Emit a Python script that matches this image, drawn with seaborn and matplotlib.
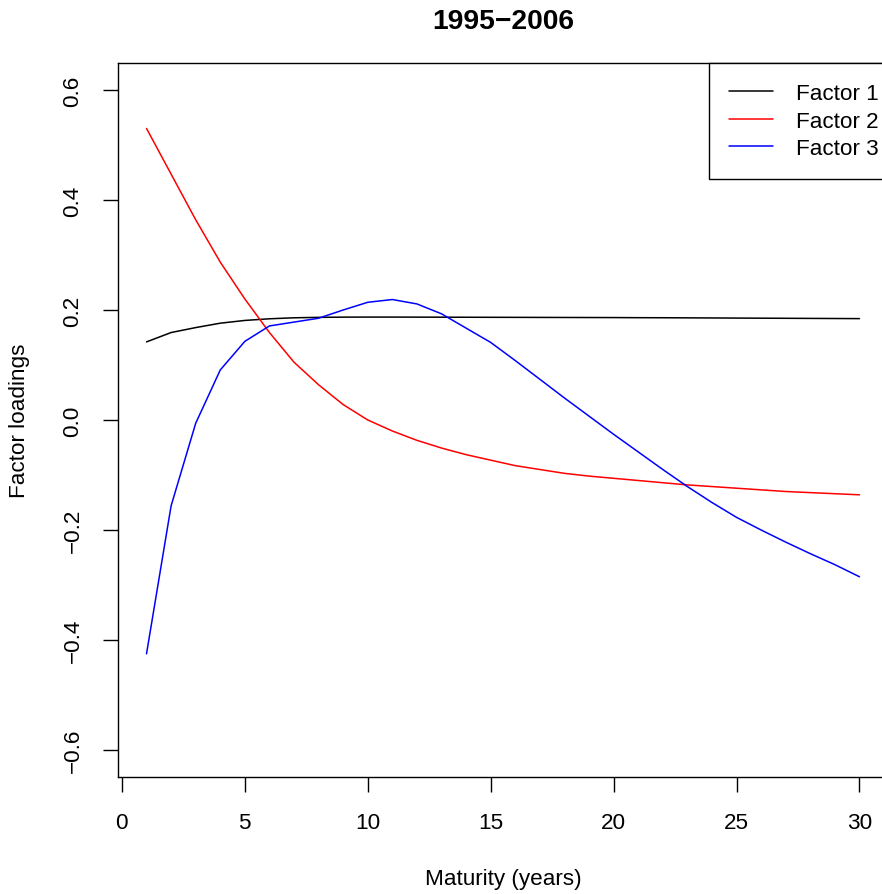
import matplotlib
matplotlib.use("Agg")
import matplotlib.pyplot as plt
import seaborn as sns
import pandas as pd
from matplotlib.lines import Line2D

maturity = list(range(1, 31))
factor1 = [0.1420, 0.1590, 0.1680, 0.1760, 0.1810, 0.1840, 0.1858, 0.1866, 0.1870, 0.1871,
           0.1871, 0.1870, 0.1869, 0.1868, 0.1867, 0.1866, 0.1865, 0.1864, 0.1863, 0.1862,
           0.1860, 0.1859, 0.1857, 0.1855, 0.1853, 0.1851, 0.1849, 0.1847, 0.1845, 0.1843]
factor2 = [0.530, 0.447, 0.364, 0.287, 0.220, 0.159, 0.105, 0.064, 0.028, 0.000,
           -0.020, -0.037, -0.051, -0.063, -0.073, -0.083, -0.090, -0.097, -0.102, -0.106,
           -0.110, -0.114, -0.118, -0.121, -0.124, -0.127, -0.130, -0.132, -0.134, -0.136]
factor3 = [-0.425, -0.156, -0.006, 0.091, 0.143, 0.171, 0.178, 0.185, 0.200, 0.214,
           0.219, 0.211, 0.193, 0.167, 0.141, 0.108, 0.074, 0.040, 0.007, -0.026,
           -0.058, -0.090, -0.121, -0.150, -0.177, -0.200, -0.222, -0.243, -0.263, -0.285]
series_names = ["Factor 1", "Factor 2", "Factor 3"]
series_colors = ["black", "red", "blue"]
x_ticks = [0, 5, 10, 15, 20, 25, 30]
y_ticks = [-0.6, -0.4, -0.2, 0.0, 0.2, 0.4, 0.6]
title = "1995\u22122006"

df = pd.DataFrame({
    "Maturity": maturity * 3,
    "Loading": factor1 + factor2 + factor3,
    "Factor": [series_names[0]] * 30 + [series_names[1]] * 30 + [series_names[2]] * 30,
})

sns.set_style("white")
plt.rcParams["font.family"] = ["Liberation Sans", "DejaVu Sans"]
plt.rcParams["text.color"] = "black"
plt.rcParams["axes.labelcolor"] = "black"
plt.rcParams["xtick.color"] = "black"
plt.rcParams["ytick.color"] = "black"

FS = 16.2
W, H = 882, 895
fig = plt.figure(figsize=(W / 100, H / 100), dpi=100)
L, R, T, B = 118, 888, 64, 778
ax = fig.add_axes([L / W, 1 - B / H, (R - L) / W, (B - T) / H])

sns.lineplot(data=df, x="Maturity", y="Loading", hue="Factor",
             palette=dict(zip(series_names, series_colors)), linewidth=1.1,
             ax=ax, legend=False)

ax.set_xlim(-0.16, 31.16)
ax.set_ylim(-0.649, 0.649)
ax.set_xticks(x_ticks)
ax.set_xticklabels([str(v) for v in x_ticks])
ax.set_yticks(y_ticks)
ax.set_yticklabels([f"{v:.1f}".replace("-", "\u2212") for v in y_ticks],
                   rotation=90, va="center")
for s in ax.spines.values():
    s.set_visible(True)
    s.set_color("black")
    s.set_linewidth(1.0)
ax.tick_params(axis="both", direction="out", length=10.8, width=1.0,
               colors="black", labelsize=FS, bottom=True, left=True)
ax.tick_params(axis="x", pad=14.5)
ax.tick_params(axis="y", pad=14)

ax.set_xlabel("Maturity (years)", fontsize=FS, va="center", color="black")
ax.xaxis.set_label_coords(503 / W, 1 - 880 / H, transform=fig.transFigure)
ax.set_ylabel("Factor loadings", fontsize=FS, va="center", color="black")
ax.yaxis.set_label_coords(20 / W, 1 - 421 / H, transform=fig.transFigure)
ax.set_title(title, fontsize=20.3, fontweight="bold", pad=30.2, va="center",
             color="black")

handles = [Line2D([0], [0], color=c, lw=1.1) for c in series_colors]
leg = fig.legend(handles, series_names, loc="upper left",
                 bbox_to_anchor=(709 / W, 1 - 64 / H), bbox_transform=fig.transFigure,
                 fontsize=FS, frameon=True, fancybox=False, framealpha=1,
                 edgecolor="black", borderpad=0.9, handlelength=1.95,
                 handletextpad=1.0, labelspacing=0.28, borderaxespad=0,
                 labelcolor="black")
leg.get_frame().set_linewidth(1.0)

fig.savefig("out.png", dpi=100)
